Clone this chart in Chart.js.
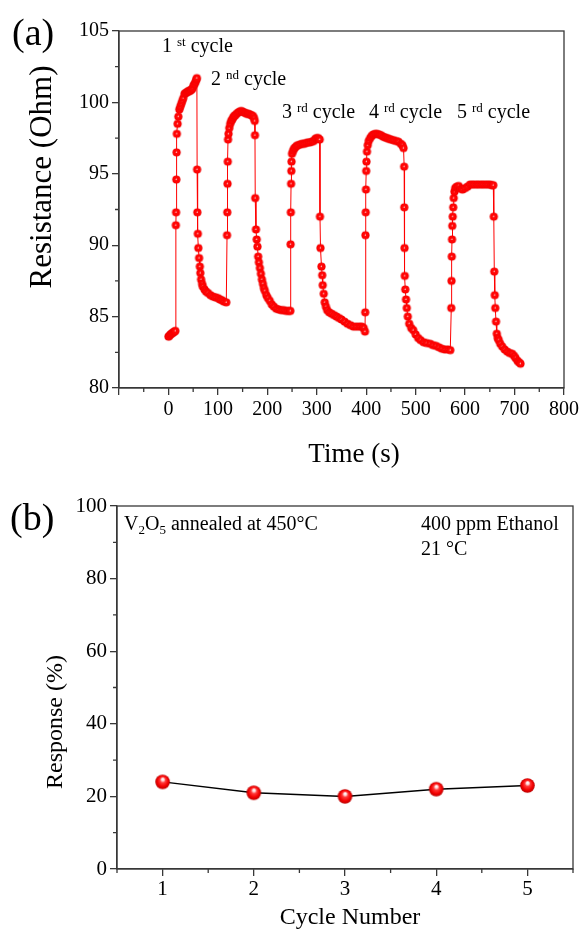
<!DOCTYPE html>
<html><head><meta charset="utf-8">
<script src="https://cdn.jsdelivr.net/npm/chart.js@4.4.0/dist/chart.umd.min.js"></script>
<style>
html,body{margin:0;padding:0;background:#fff;}
#wrap{position:relative;width:582px;height:934px;overflow:hidden;background:#fff;}
#ca{position:absolute;left:0;top:0;}
#cb{position:absolute;left:0;top:470px;}
</style></head><body>
<div id="wrap"><canvas id="ca" width="582" height="470"></canvas><canvas id="cb" width="582" height="464"></canvas></div>
<script>
// ---------- (a) Resistance vs time, [time (s), resistance (Ohm)] ----------
const baseline0 = [[0,83.6],[2,83.65],[4,83.75],[6,83.8],[8,83.85],[10,83.9],[12,83.95],[14,84.0]];
const cycle1 = [[15,91.4],[15.5,92.3],[16,94.6],[16.5,96.5],[17,97.8],[18.5,98.5],[20,99.0],[22,99.5],[24,99.7],[26,99.9],[28,100.1],[30,100.3],[32.5,100.6],[35,100.65],[37,100.7],[39,100.75],[41,100.8],[43,100.8],[45,100.85],[47,100.9],[49,101.0],[51,101.2],[53,101.3],[55,101.45],[56.5,101.6],[57.5,101.7],
  [58,95.3],[58.5,92.3],[59.5,90.8],[60.5,89.8],[62,89.1],[63.5,88.5],[64.5,88.05],[66,87.6],[68,87.3],[69.5,87.1],[73,86.9],[76,86.75],[80,86.65],[85,86.5],[90,86.4],[95,86.35],[100,86.3],[104,86.2],[108,86.15],[112,86.05],[117,86.0]];
const cycle2 = [[118.5,90.7],[119,92.3],[119.5,94.3],[120,95.85],[120.5,97.4],[121.5,97.8],[123,98.2],[125,98.5],[127,98.7],[129,98.8],[131,98.95],[133,99.05],[135,99.1],[138,99.2],[141,99.3],[144,99.35],[147,99.4],[150,99.35],[153,99.3],[156,99.25],[159,99.2],[162,99.2],[165,99.15],[168,99.1],[171,99.05],[173,98.9],[174.5,98.7],
  [175,97.7],[175.5,93.3],[177,91.1],[178.5,90.4],[180,89.9],[181.5,89.2],[183,88.8],[185,88.4],[187,88.0],[189,87.6],[191,87.3],[193,87.0],[195,86.8],[198,86.5],[201,86.3],[205,86.1],[209,85.85],[213,85.7],[218,85.55],[223,85.5],[228,85.45],[233,85.45],[238,85.4],[243,85.4],[246.5,85.4]];
const cycle3 = [[247,90.06],[247.5,92.3],[248,94.3],[248.5,95.2],[249,95.85],[250,96.4],[252,96.6],[254,96.75],[256,96.85],[259,96.95],[262,97.0],[266,97.05],[270,97.1],[274,97.1],[278,97.15],[282,97.2],[286,97.2],[290,97.25],[294,97.3],[297,97.45],[300,97.5],[303,97.5],[306,97.4],
  [306.5,92.0],[307.5,89.8],[309.5,88.5],[311,87.9],[312,87.2],[314,86.6],[316,86.0],[318.5,85.7],[321,85.45],[325,85.3],[330,85.2],[335,85.1],[340,85.0],[345,84.9],[350,84.8],[356,84.65],[362,84.5],[368,84.4],[374,84.3],[380,84.3],[386,84.3],[391,84.3],[395,84.2],[397.5,83.95]];
const cycle4 = [[398,85.3],[398.5,90.7],[399,92.3],[399.5,93.9],[400,95.2],[400.5,95.85],[401.5,96.55],[403,97.0],[405,97.3],[408,97.5],[411,97.65],[414,97.75],[418,97.8],[422,97.8],[426,97.75],[430,97.7],[434,97.6],[438,97.55],[442,97.5],[446,97.45],[450,97.4],[455,97.35],[460,97.3],[465,97.25],[470,97.1],[473,97.0],[475.5,96.8],
  [476.7,95.5],[477,92.65],[477.5,89.8],[478,87.85],[479,86.9],[480.5,86.2],[482,85.6],[484,85.0],[487,84.5],[491,84.2],[495,84.05],[500,83.75],[505,83.5],[510,83.35],[516,83.2],[522,83.15],[529,83.1],[535,83.0],[541,82.95],[547,82.85],[553,82.75],[559,82.7],[565,82.7],[570,82.65]];
const cycle5 = [[572,85.6],[572.5,87.5],[573,89.2],[573.5,90.4],[574,91.35],[575,92.0],[576,92.65],[577,93.3],[578.5,93.75],[580,94.0],[583,94.1],[587,94.15],[591,93.95],[595,93.9],[600,94.0],[605,94.1],[610,94.25],[615,94.25],[620,94.25],[625,94.25],[630,94.25],[635,94.25],[640,94.25],[645,94.25],[650,94.25],[654,94.2],[657,94.2],
  [658,92.0],[659,88.15],[660,86.5],[661,85.6],[662.5,84.65],[664,83.8],[666,83.5],[668,83.35],[671,83.1],[675,82.9],[680,82.7],[685,82.55],[690,82.45],[695,82.4],[699,82.25],[702,82.1],[706,81.9],[709,81.8],[712,81.7]];
const timeTicks = [-100,0,100,200,300,400,500,600,700,800];
const timeMinorTicks = [-50,50,150,250,350,450,550,650,750];
const resistanceTicks = [80,85,90,95,100,105];
const resistanceMinorTicks = [82.5,87.5,92.5,97.5,102.5];

// ---------- (b) Response vs cycle number ----------
const cycleNumbers = [1,2,3,4,5];
const responsePercent = [24,21,20,22,23];
const cycleMinorTicks = [0.5,1.5,2.5,3.5,4.5,5.5];
const responseTicks = [0,20,40,60,80,100];
const responseMinorTicks = [10,30,50,70,90];

const FONT = '"Liberation Serif", "Times New Roman", serif';
const AXIS = '#383838';

function makeDot(r){
  const s = Math.ceil(r*2+2), c = document.createElement('canvas');
  c.width = c.height = s;
  const g = c.getContext('2d'), cx = s/2, cy = s/2;
  const gr = g.createRadialGradient(cx-0.2, cy-0.3, 0, cx, cy, r);
  gr.addColorStop(0, '#ffeaea'); gr.addColorStop(0.1, '#ffb0b0'); gr.addColorStop(0.26, '#ff0a0a'); gr.addColorStop(0.85, '#ff0000'); gr.addColorStop(1, '#e40000');
  g.fillStyle = gr; g.beginPath(); g.arc(cx, cy, r, 0, Math.PI*2); g.fill();
  return c;
}
function makeSphere(r){
  const s = Math.ceil(r*2+2), c = document.createElement('canvas');
  c.width = c.height = s;
  const g = c.getContext('2d'), cx = s/2, cy = s/2;
  const gr = g.createRadialGradient(cx+0.3, cy-3, 0.3, cx, cy, r);
  gr.addColorStop(0, '#ffffff'); gr.addColorStop(0.16, '#ffd8d8'); gr.addColorStop(0.36, '#ff3a3a'); gr.addColorStop(0.72, '#f50000'); gr.addColorStop(1, '#b80000');
  g.fillStyle = gr; g.beginPath(); g.arc(cx, cy, r, 0, Math.PI*2); g.fill();
  return c;
}

const frameAndMinor = {
  id: 'frameAndMinor',
  afterDraw(chart, args, opts){
    const {ctx, chartArea: a, scales} = chart;
    ctx.save();
    ctx.strokeStyle = AXIS; ctx.lineWidth = 1.3;
    ctx.strokeRect(a.left, a.top, a.right - a.left, a.bottom - a.top);
    ctx.beginPath();
    for (const v of opts.x) { const p = scales.x.getPixelForValue(v); ctx.moveTo(p, a.bottom); ctx.lineTo(p, a.bottom + 4); }
    for (const v of opts.y) { const p = scales.y.getPixelForValue(v); ctx.moveTo(a.left, p); ctx.lineTo(a.left - 4, p); }
    ctx.stroke();
    ctx.restore();
  }
};
// texts: axis titles, panel letters, annotations (with sub/superscripts)
const richText = {
  id: 'richText',
  afterDraw(chart, args, opts){
    const ctx = chart.ctx;
    ctx.save();
    ctx.fillStyle = '#000';
    for (const item of opts.items) {
      if (item.rot) {
        ctx.save();
        ctx.translate(item.x, item.y); ctx.rotate(item.rot);
        ctx.font = item.size + 'px ' + FONT; ctx.textAlign = 'center'; ctx.textBaseline = 'middle';
        ctx.fillText(item.text, 0, 0);
        ctx.restore();
        continue;
      }
      if (item.text) {
        ctx.font = item.size + 'px ' + FONT; ctx.textAlign = 'center'; ctx.textBaseline = 'middle';
        ctx.fillText(item.text, item.x, item.y);
        continue;
      }
      ctx.textAlign = 'left'; ctx.textBaseline = 'alphabetic';
      let x = item.x;
      for (const p of item.parts) {
        ctx.font = p.size + 'px ' + FONT;
        ctx.fillText(p.text, x, item.y + (p.dy || 0));
        x += ctx.measureText(p.text).width;
      }
    }
    ctx.restore();
  }
};
function cyc(num, sup, x, y){
  return {x, y, parts: [{text: num + ' ', size: 20}, {text: sup, size: 13, dy: -6}, {text: ' cycle', size: 20}]};
}

const resistanceSeries = [...baseline0, ...cycle1, ...cycle2, ...cycle3, ...cycle4, ...cycle5].map(([x, y]) => ({x, y}));
const gridOpts = {drawOnChartArea: false, color: AXIS, tickLength: 7, lineWidth: 1.3};

new Chart(document.getElementById('ca'), {
  type: 'line',
  data: {datasets: [{data: resistanceSeries, borderColor: '#ff0000', borderWidth: 1, pointStyle: makeDot(4.1), pointRadius: 4, tension: 0, fill: false}]},
  options: {
    responsive: false, animation: false, devicePixelRatio: 1,
    layout: {padding: {left: 0, top: 31, right: 18, bottom: 0}},
    plugins: {
      legend: {display: false}, tooltip: {enabled: false},
      frameAndMinor: {x: timeMinorTicks, y: resistanceMinorTicks},
      richText: {items: [
        {x: 12, y: 45, parts: [{text: '(a)', size: 38}]},
        cyc('1', 'st', 162, 52), cyc('2', 'nd', 211, 85), cyc('3', 'rd', 282, 118), cyc('4', 'rd', 369, 118), cyc('5', 'rd', 457, 118),
        {text: 'Time (s)', size: 27, x: 354, y: 455},
        {text: 'Resistance (Ohm)', size: 31, x: 43, y: 177, rot: -Math.PI/2}
      ]}
    },
    scales: {
      x: {type: 'linear', min: -100, max: 800,
        afterBuildTicks: s => { s.ticks = timeTicks.map(v => ({value: v})); },
        afterFit: s => { s.height = 82; },
        ticks: {font: {family: FONT, size: 20}, color: '#000', padding: 3, maxRotation: 0, autoSkip: false, callback: v => (v < 0 ? '' : String(v))},
        grid: gridOpts, border: {color: AXIS, width: 1.3},
        title: {display: false}},
      y: {type: 'linear', min: 80, max: 105,
        afterBuildTicks: s => { s.ticks = resistanceTicks.map(v => ({value: v})); },
        afterFit: s => { s.width = 119; },
        ticks: {font: {family: FONT, size: 20}, color: '#000', padding: 3},
        grid: gridOpts, border: {color: AXIS, width: 1.3},
        title: {display: false}}
    }
  },
  plugins: [frameAndMinor, richText]
});

new Chart(document.getElementById('cb'), {
  type: 'line',
  data: {datasets: [{data: cycleNumbers.map((c, i) => ({x: c, y: responsePercent[i]})), borderColor: '#000', borderWidth: 1.5, pointStyle: makeSphere(7.3), pointRadius: 7, tension: 0, fill: false}]},
  options: {
    responsive: false, animation: false, devicePixelRatio: 1,
    layout: {padding: {left: 0, top: 36, right: 9, bottom: 0}},
    plugins: {
      legend: {display: false}, tooltip: {enabled: false},
      frameAndMinor: {x: cycleMinorTicks, y: responseMinorTicks},
      richText: {items: [
        {x: 10, y: 60, parts: [{text: '(b)', size: 38}]},
        {x: 124, y: 60, parts: [{text: 'V', size: 20}, {text: '2', size: 13, dy: 4}, {text: 'O', size: 20}, {text: '5', size: 13, dy: 4}, {text: ' annealed at 450°C', size: 20}]},
        {x: 421, y: 60, parts: [{text: '400 ppm Ethanol', size: 20}]},
        {x: 421, y: 85, parts: [{text: '21 °C', size: 20}]},
        {text: 'Cycle Number', size: 24, x: 350, y: 448},
        {text: 'Response (%)', size: 24, x: 56, y: 252, rot: -Math.PI/2}
      ]}
    },
    scales: {
      x: {type: 'linear', min: 0.5, max: 5.5,
        afterBuildTicks: s => { s.ticks = cycleNumbers.map(v => ({value: v})); },
        afterFit: s => { s.height = 65; },
        ticks: {font: {family: FONT, size: 21}, color: '#000', padding: 1, maxRotation: 0, autoSkip: false},
        grid: gridOpts, border: {color: AXIS, width: 1.3},
        title: {display: false}},
      y: {type: 'linear', min: 0, max: 100,
        afterBuildTicks: s => { s.ticks = responseTicks.map(v => ({value: v})); },
        afterFit: s => { s.width = 117; },
        ticks: {font: {family: FONT, size: 21}, color: '#000', padding: 3},
        grid: gridOpts, border: {color: AXIS, width: 1.3},
        title: {display: false}}
    }
  },
  plugins: [frameAndMinor, richText]
});
</script>
</body></html>
